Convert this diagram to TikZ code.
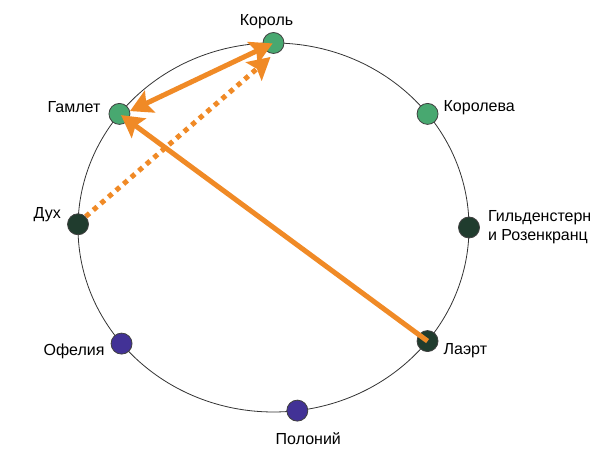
\documentclass[tikz,border=0pt]{standalone}
\usepackage{fontspec}
\setmainfont{Liberation Sans}
\usetikzlibrary{arrows.meta,positioning}
\definecolor{herogreen}{RGB}{72,168,112}
\definecolor{darkgreen}{RGB}{32,60,46}
\definecolor{plumblue}{RGB}{66,50,150}
\definecolor{arroworange}{RGB}{240,138,38}

\begin{document}
\begin{tikzpicture}[x=1pt,y=1pt,
	>={Stealth[length=22pt 0,width=24pt 0,inset=4pt 0]},
	person/.style={circle,draw=black!75,line width=0.8pt,minimum size=21pt,inner sep=0pt},
	role/.style={font=\fontsize{16}{19}\selectfont,inner sep=0pt},
	link/.style={arroworange,line width=5pt}]
	\useasboundingbox (0,0) rectangle (603,465);
	\coordinate (centre) at (273.5,237.5);
	\draw[black!80,line width=0.8pt] (centre) ellipse [x radius=195.5,y radius=184.5];
	\foreach \a/\n/\c in {90/korol/herogreen,142/gamlet/herogreen,38/koroleva/herogreen,
		179/dukh/darkgreen,0/gilden/darkgreen,-38/laert/darkgreen,
		219/ofelia/plumblue,-83/polonij/plumblue}
		\node[person,fill=\c] (\n) at ([shift={(\a:195.5 and 184.5)}]centre) {};
	\node[role,above=3pt of korol,xshift=-7pt] (korol-text) {Король};
	\node[role,left=8pt of gamlet,yshift=7pt] (gamlet-text) {Гамлет};
	\node[role,right=5pt of koroleva,yshift=6pt] (koroleva-text) {Королева};
	\node[role,left=6pt of dukh,yshift=10pt] (dukh-text) {Дух};
	\node[role,right=8pt of gilden,align=left] (gilden-text) {Гильденстерн\\и Розенкранц};
	\node[role,right=5pt of laert,yshift=-10pt] (laert-text) {Лаэрт};
	\node[role,left=6pt of ofelia,yshift=-8pt] (ofelia-text) {Офелия};
	\node[role,below=11pt of polonij,xshift=11pt] (polonij-text) {Полоний};
	\coordinate (korol-aim) at ([shift={(-3pt,-14pt)}]korol.center);
	\draw[link,->,dash pattern=on 5pt off 5pt] (dukh.45) -- (korol-aim);
	\draw[link,<->,shorten >=1pt] (gamlet.15) -- (korol.center);
	\draw[link,->,shorten >=2pt] (laert.center) -- (gamlet.center);
\end{tikzpicture}
\end{document}
